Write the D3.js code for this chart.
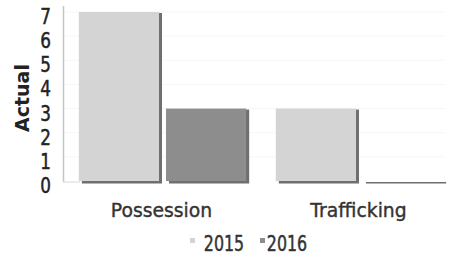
<!DOCTYPE html>
<html><head><meta charset="utf-8">
<script src="https://cdn.jsdelivr.net/npm/d3@7"></script>
<style>body{margin:0;background:#fff}svg{display:block}</style>
</head><body>
<script>
const categories = ["Possession", "Trafficking"];
const years = ["2015", "2016"];
const values2015 = [7, 3];
const values2016 = [3, 0];
const yTicks = [0, 1, 2, 3, 4, 5, 6, 7];
const yLabel = "Actual";

const W = 449, H = 256;
const svg = d3.select("body").append("svg").attr("width", W).attr("height", H);
const font = "'DejaVu Sans', Verdana, sans-serif";

const y = d3.scaleLinear().domain([0, 7]).range([181, 12]);
const x0 = d3.scaleBand().domain(categories).range([64, 458]);
const x1 = d3.scaleBand().domain(years).range([0, x0.bandwidth()]).paddingInner(0.08).paddingOuter(0.17);
const colors = {"2015": "#d4d4d4", "2016": "#8d8d8d"};

// faint gridlines
svg.append("g").selectAll("line").data(yTicks.slice(1)).join("line")
  .attr("x1", 64).attr("x2", 445).attr("y1", d => y(d)).attr("y2", d => y(d))
  .attr("stroke", "#f6f6f6").attr("stroke-width", 1);

// axis line
svg.append("line").attr("x1", 63.5).attr("x2", 63.5).attr("y1", 6).attr("y2", 182)
  .attr("stroke", "#c4c4c4").attr("stroke-width", 1.5);
svg.append("line").attr("x1", 63).attr("x2", 80).attr("y1", 182).attr("y2", 182)
  .attr("stroke", "#d8d8d8").attr("stroke-width", 1);

const data = [];
categories.forEach((c, i) => {
  data.push({cat: c, year: "2015", v: values2015[i]});
  data.push({cat: c, year: "2016", v: values2016[i]});
});

const g = svg.append("g");
data.forEach(d => {
  const bx = x0(d.cat) + x1(d.year);
  const bw = x1.bandwidth();
  const top = y(d.v);
  g.append("rect").attr("x", bx + 3).attr("y", top + 1).attr("width", bw)
    .attr("height", Math.max(0, y(0) - top) + 1.5).attr("fill", "#6f6f6f");
  g.append("rect").attr("x", bx).attr("y", top).attr("width", bw)
    .attr("height", Math.max(0, y(0) - top)).attr("fill", colors[d.year]);
});

// y tick labels
svg.append("g").selectAll("text").data(yTicks).join("text")
  .attr("transform", d => `translate(51,${y(d) + 12}) scale(0.8,1)`)
  .attr("text-anchor", "end").attr("font-family", font).attr("font-size", 21)
  .attr("fill", "#222").attr("stroke", "#222").attr("stroke-width", 0.5).text(d => d);

// y label
svg.append("text").attr("transform", "translate(29,98) rotate(-90)")
  .attr("text-anchor", "middle").attr("font-family", font).attr("font-weight", "bold")
  .attr("font-size", 19).attr("fill", "#222").text(yLabel);

// category labels
svg.append("g").selectAll("text").data(categories).join("text")
  .attr("transform", d => `translate(${x0(d) + x0.bandwidth() / 2 - 1},217) scale(0.94,1)`)
  .attr("text-anchor", "middle").attr("font-family", font).attr("font-size", 20)
  .attr("fill", "#333").attr("stroke", "#333").attr("stroke-width", 0.4).text(d => d);

// legend
const leg = svg.append("g");
const legItems = [{y: "2015", sx: 190, tx: 224}, {y: "2016", sx: 260, tx: 287}];
legItems.forEach(it => {
  leg.append("rect").attr("x", it.sx).attr("y", 238).attr("width", 5).attr("height", 5)
    .attr("fill", colors[it.y]);
  leg.append("text").attr("transform", `translate(${it.tx},251) scale(0.72,1)`)
    .attr("text-anchor", "middle").attr("font-family", font).attr("font-size", 22)
    .attr("fill", "#333").attr("stroke", "#333").attr("stroke-width", 0.5).text(it.y);
});
</script>
</body></html>
